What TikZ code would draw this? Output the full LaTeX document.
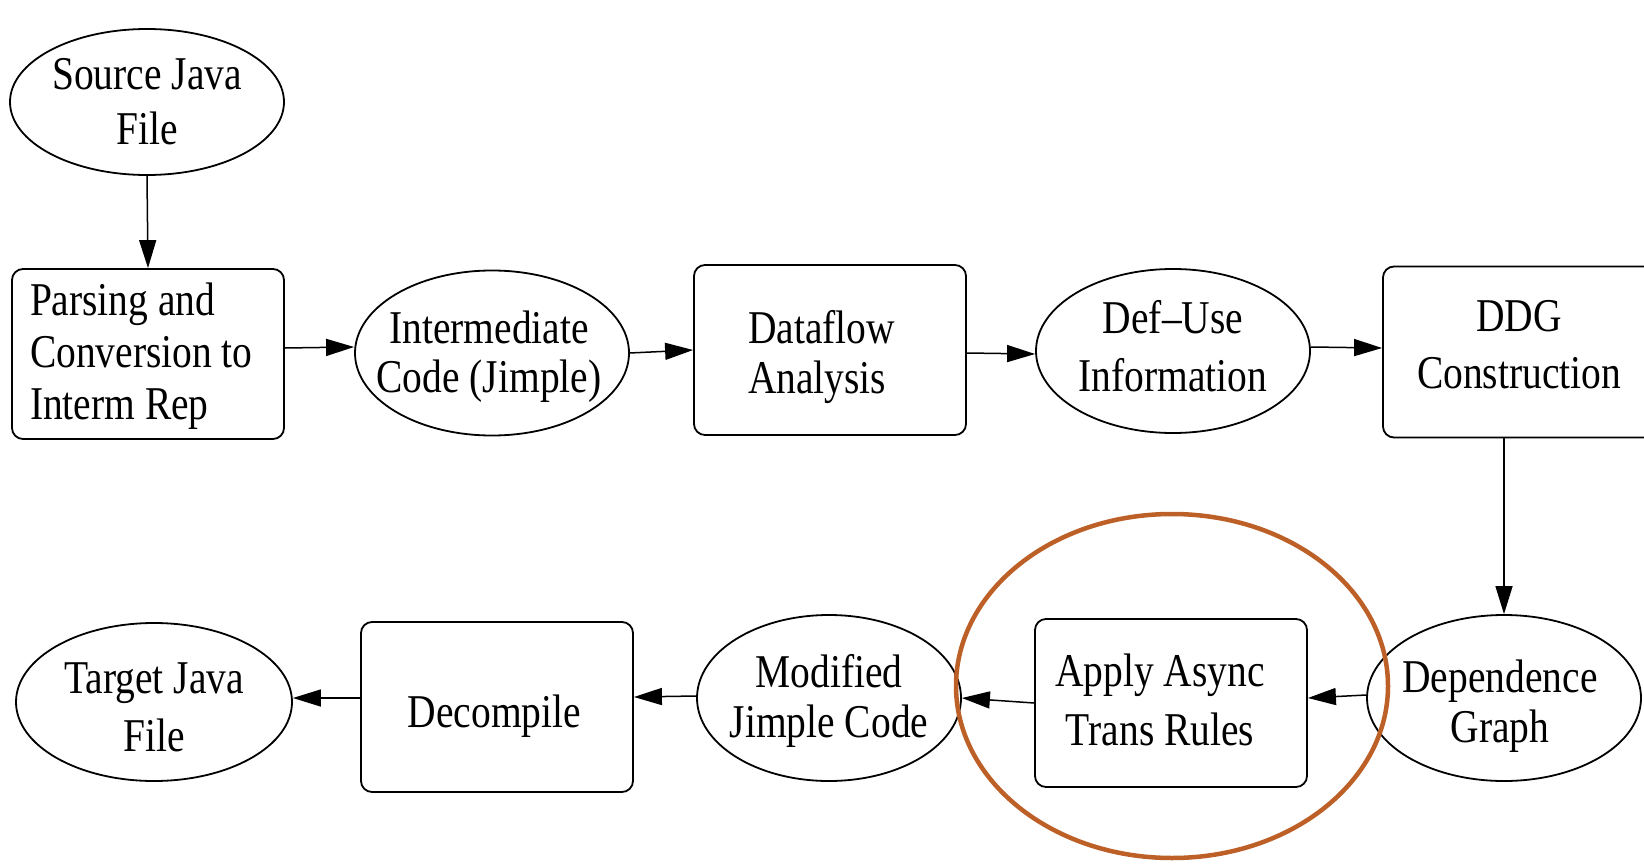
\documentclass[tikz,border=0pt]{standalone}
\usepackage{fontspec}
\setmainfont[FakeStretch=0.84]{Liberation Serif}
\usetikzlibrary{shapes.geometric,arrows.meta}
\definecolor{hilite}{RGB}{188,96,40}
\tikzset{
  lbl/.style={font=\fontsize{47}{54}\selectfont, align=flush center, text width=260pt},
  ls/.style={font=\fontsize{47}{#1}\selectfont},
  hd/.style 2 args={text height=#1pt, text depth=#2pt},
  box/.style={lbl, draw, line width=1.8pt, rounded corners=11pt, rectangle, inner sep=0pt,
              minimum width=272pt, minimum height=170pt},
  oval/.style={lbl, draw, line width=1.8pt, ellipse, inner xsep=-45pt, inner ysep=0pt,
               minimum width=274pt, minimum height=164pt},
  arr/.style={line width=1.5pt, -{Triangle[length=28pt,width=17pt]}}
}
\begin{document}
\begin{tikzpicture}[x=1pt,y=-1pt]
\useasboundingbox (0,0) rectangle (1644,864);
\node[oval, minimum height=146pt, ls=55, hd={38}{62}] (src) at (147,102) {Source Java\\File};
\node[box, align=flush left, text width=236pt, ls=52, hd={36}{114}] (parse) at (148,354) {Parsing and\\Conversion to\\Interm Rep};
\node[oval, minimum height=165pt, ls=49, hd={40}{60}] (inter) at (492,353) {\mbox{Intermediate\kern6pt}\\\mbox{Code (Jimple)\kern6pt}};
\node[box, align=flush left, text width=164pt, ls=50, hd={68}{82}] (df) at (830,350) {Dataflow\\Analysis};
\node[oval, ls=58, hd={32}{68}] (du) at (1173,351) {Def{\textendash}Use\\Information};
\node[box, minimum height=171pt, ls=57, hd={54}{96}] (ddg) at (1519,352) {DDG\\Construction};
\node[oval, minimum height=166pt, ls=50, hd={44}{56}] (dep) at (1504,698) {\mbox{Dependence\kern8pt}\\\mbox{Graph\kern8pt}};
\node[box, minimum height=168pt, ls=59, hd={58}{92}] (apply) at (1171,703) {\mbox{Apply Async\kern22pt}\\\mbox{Trans Rules\kern22pt}};
\node[oval, minimum width=264pt, minimum height=166pt, ls=50, hd={39}{61}] (mod) at (829,698) {Modified\\Jimple Code};
\node[box, hd={95}{55}] (dec) at (497,707) {\mbox{Decompile\kern5pt}};
\node[oval, minimum width=276pt, minimum height=158pt, ls=58, hd={41}{59}] (tgt) at (154,702) {Target Java\\File};
\draw[hilite, line width=4.5pt] (1172,686) ellipse [x radius=216pt, y radius=172pt];
\draw[arr] (src.south) -- (parse.north);
\draw[arr] ([yshift=6pt]parse.east) -- ([yshift=6pt]inter.west);
\draw[arr] (inter.east) -- (df.west);
\draw[arr] ([yshift=-3pt]df.east) -- ([yshift=-3pt]du.west);
\draw[arr] ([yshift=4pt]du.east) -- ([yshift=4pt]ddg.west);
\draw[arr] (ddg.south -| dep.north) -- (dep.north);
\draw[arr] ([yshift=3pt]dep.west) -- ([yshift=5pt]apply.east);
\draw[arr] (apply.west) -- (mod.east);
\draw[arr] ([yshift=2pt]mod.west) -- ([yshift=10pt]dec.east);
\draw[arr] ([yshift=9pt]dec.west) -- ([yshift=4pt]tgt.east);
\end{tikzpicture}
\end{document}
